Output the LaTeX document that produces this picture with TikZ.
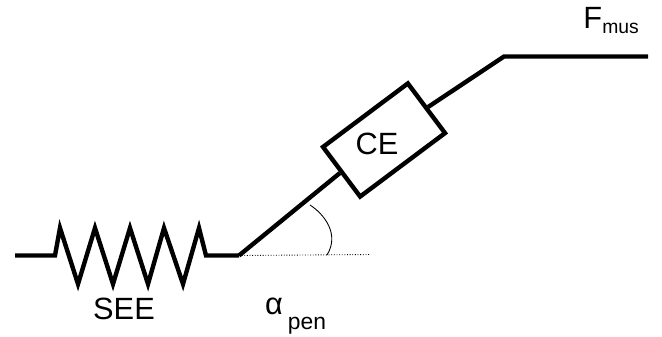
\documentclass[tikz,border=0pt]{standalone}
\usepackage{fontspec}
\setmainfont{Liberation Sans}
\usetikzlibrary{positioning}

\begin{document}
\begin{tikzpicture}[x=0.02cm, y=-0.02cm,
    muscle/.style={line width=2.5pt, line join=miter},
    thinline/.style={line width=0.5pt},
    bigtext/.style={font=\fontsize{17.5}{20}\selectfont, inner sep=0pt},
    smalltext/.style={font=\fontsize{13}{15}\selectfont, inner sep=0pt},
    subtext/.style={font=\fontsize{11}{13}\selectfont, inner sep=0pt}]
      \useasboundingbox (0, 0) rectangle (662, 336);

      % Contractile element
      \node[draw, muscle, rotate=36.8, minimum width=2.12cm, minimum height=1.24cm, inner sep=0pt] (box) at (384, 140) {};
      \node[bigtext] (ce) at (377, 144) {CE};

      % Ends and joints
      \coordinate (start) at (15, 255.5);
      \coordinate (joint) at (239, 255.5);
      \coordinate (bend) at (504, 56.5);
      \coordinate (end) at (648, 56.5);
      \coordinate (ref) at (370, 254.5);
      \coordinate (arcstart) at (310, 205);
      \coordinate (arcend) at (327, 255);

      % Series elastic element
      \draw[muscle] (start) -- (55, 255.5) -- (60, 228) -- (78, 284) -- (95, 228) -- (113, 284) -- (130, 228)
        -- (148, 284) -- (164, 228) -- (183, 284) -- (199, 228) -- (206, 255.5) -- (joint);

      % Tendon lines
      \draw[muscle] (joint) -- (box.west);
      \draw[muscle] (box.east) -- (bend) -- (end);

      % Pennation angle
      \draw[thinline, densely dotted] (joint) -- (ref);
      \draw[thinline] (arcstart) .. controls (324, 214) and (340, 234) .. (arcend);

      % Labels
      \node[bigtext] (see) at (124, 309) {SEE};
      \node[bigtext] (alpha) at (274, 306) {α};
      \node[smalltext] (pen) at (307, 326) {pen};
      \node[bigtext, anchor=base west] (force) at (583, 28) {F};
      \node[subtext, anchor=base west] (mus) at (602, 33) {mus};
    \end{tikzpicture}
\end{document}
